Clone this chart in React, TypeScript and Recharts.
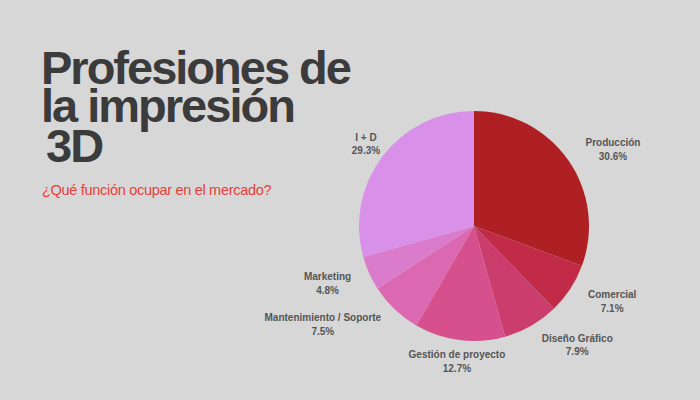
import { PieChart, Pie, Cell } from "recharts";

const categories = [
  "Producción",
  "Comercial",
  "Diseño Gráfico",
  "Gestión de proyecto",
  "Mantenimiento / Soporte",
  "Marketing",
  "I + D",
];
const shares = [30.6, 7.1, 7.9, 12.7, 7.5, 4.8, 29.3];
const colors = ["#AF2024", "#C12B47", "#CB3D6D", "#D5508C", "#DB69B2", "#DA7CCB", "#D890E9"];

const data = categories.map((name, i) => ({ name, value: shares[i] }));

// label placement tweaks (px beyond the rim, degrees clockwise) to keep labels clear of each other
const labelGap = [44, 42, 42, 21, 65, 42, 21];
const labelShift = [5.8, -4.7, -11.2, 0, 13.5, 3.1, 0.2];

const RADIAN = Math.PI / 180;

const renderLabel = (props: any) => {
  const { cx, cy, midAngle, outerRadius, index } = props;
  const r = outerRadius + labelGap[index];
  const a = (midAngle - labelShift[index]) * RADIAN;
  const x = cx + r * Math.cos(-a);
  const y = cy + r * Math.sin(-a);
  return (
    <text
      x={x}
      y={y}
      textAnchor="middle"
      fill="#555"
      fontSize={10}
      fontWeight="bold"
      fontFamily="'Liberation Sans', Arial, sans-serif"
    >
      <tspan x={x} dy={-2.5}>{categories[index]}</tspan>
      <tspan x={x} dy={13.5}>{shares[index].toFixed(1)}%</tspan>
    </text>
  );
};

const App = () => {
  return (
    <div
      style={{
        position: "fixed",
        top: 0,
        left: 0,
        width: 700,
        height: 400,
        background: "#D7D7D7",
        overflow: "hidden",
      }}
    >
      <div
        style={{
          position: "absolute",
          left: 41,
          top: 49,
          fontFamily: "'Liberation Sans', Arial, sans-serif",
          fontWeight: "bold",
          fontSize: 47,
          lineHeight: "38px",
          letterSpacing: -2,
          color: "#3B3B3B",
        }}
      >
        <div>Profesiones de</div>
        <div>la impresión</div>
        <div style={{ paddingLeft: 5, marginTop: 2 }}>3D</div>
      </div>
      <div
        style={{
          position: "absolute",
          left: 42,
          top: 182,
          fontFamily: "'Liberation Sans', Arial, sans-serif",
          fontSize: 14.5,
          letterSpacing: -0.3,
          color: "#E8403A",
        }}
      >
        ¿Qué función ocupar en el mercado?
      </div>
      <PieChart
        width={700}
        height={400}
        margin={{ top: 0, right: 0, bottom: 0, left: 0 }}
        style={{ position: "absolute", top: 0, left: 0 }}
      >
        <Pie
          data={data}
          dataKey="value"
          nameKey="name"
          cx={474}
          cy={226}
          outerRadius={115}
          startAngle={90}
          endAngle={-270}
          stroke="none"
          label={renderLabel}
          labelLine={false}
          isAnimationActive={false}
        >
          {data.map((entry, index) => (
            <Cell key={entry.name} fill={colors[index]} />
          ))}
        </Pie>
      </PieChart>
    </div>
  );
};

export default App;
